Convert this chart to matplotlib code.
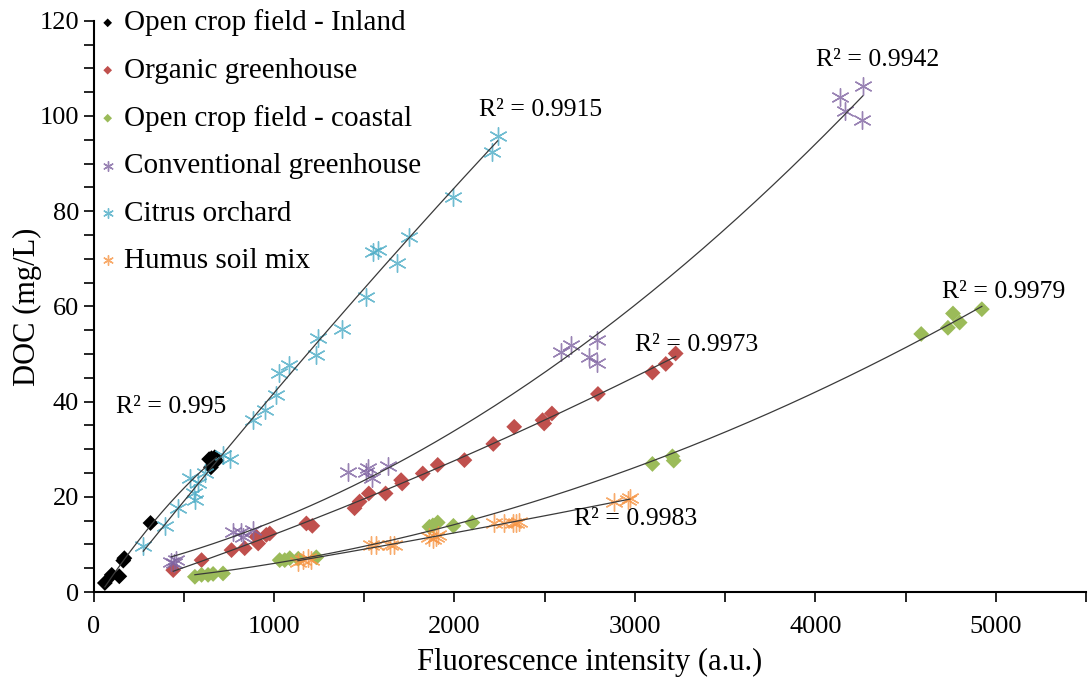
import matplotlib
matplotlib.use("Agg")
import matplotlib.pyplot as plt
import numpy as np

plt.rcParams['font.family'] = ['Liberation Serif', 'DejaVu Serif']

# Open crop field - Inland
inland_x = [62, 100, 142, 164, 170, 315, 640, 650, 653, 662, 671, 680]
inland_y = [1.9, 3.6, 3.3, 6.6, 7.1, 14.5, 27.9, 26.2, 28.1, 27.2, 28.3, 27.6]

# Organic greenhouse
organic_x = [441, 598, 764, 837, 902, 912, 957, 976, 1179, 1212, 1446, 1474, 1525, 1618,
             1704, 1710, 1824, 1907, 2055, 2215, 2331, 2488, 2497, 2540, 2795, 3097, 3171, 3226]
organic_y = [4.6, 6.7, 8.8, 9.2, 11.6, 10.2, 12.0, 12.3, 14.4, 13.9, 17.6, 19.0, 20.7, 20.7,
             23.5, 22.8, 24.9, 26.7, 27.7, 31.1, 34.7, 36.1, 35.4, 37.5, 41.6, 46.1, 47.9, 50.1]

# Open crop field - coastal
coastal_x = [561, 598, 634, 662, 717, 1031, 1059, 1087, 1134, 1234, 1861, 1880, 1907, 1994,
             2099, 3097, 3208, 3215, 4587, 4735, 4763, 4800, 4923]
coastal_y = [3.2, 3.6, 3.6, 3.8, 3.9, 6.7, 6.7, 7.1, 7.0, 7.3, 13.7, 14.0, 14.6, 13.9,
             14.6, 26.9, 28.5, 27.6, 54.2, 55.5, 58.5, 56.6, 59.4]

# Conventional greenhouse
conv_x = [431, 459, 445, 773, 819, 828, 883, 1409, 1511, 1520, 1544, 1630, 2590, 2645,
          2747, 2792, 2792, 4139, 4163, 4259, 4263]
conv_y = [6.4, 6.7, 6.0, 12.7, 12.7, 11.6, 13.0, 25.3, 25.3, 26.0, 23.9, 26.5, 50.5, 51.9,
          49.4, 52.9, 48.0, 104.0, 101.1, 99.2, 106.2]

# Citrus orchard
citrus_x = [275, 395, 468, 533, 555, 561, 580, 616, 717, 754, 883, 948, 1013, 1027, 1083,
            1234, 1243, 1378, 1511, 1551, 1575, 1682, 1750, 1990, 2206, 2239]
citrus_y = [9.6, 13.8, 17.7, 24.0, 20.7, 19.4, 23.0, 25.0, 28.8, 27.9, 36.2, 38.3, 41.4, 45.9, 47.7,
            49.8, 53.3, 55.2, 62.0, 71.4, 71.8, 69.1, 74.6, 82.9, 92.4, 95.8]

# Humus soil mix
humus_x = [1132, 1160, 1188, 1207, 1538, 1566, 1640, 1667, 1861, 1880, 1898, 1907, 2221,
           2276, 2322, 2340, 2359, 2885, 2960, 2972]
humus_y = [6.4, 6.7, 7.1, 6.7, 9.9, 9.9, 9.9, 9.9, 11.6, 11.1, 11.6, 12.0, 14.4,
           14.4, 14.4, 14.6, 14.8, 19.0, 19.3, 19.7]

series = [
    ("Open crop field - Inland", inland_x, inland_y, "#000000", "D"),
    ("Organic greenhouse", organic_x, organic_y, "#C0504D", "D"),
    ("Open crop field - coastal", coastal_x, coastal_y, "#9BBB59", "D"),
    ("Conventional greenhouse", conv_x, conv_y, "#8064A2", (6, 2, 0)),
    ("Citrus orchard", citrus_x, citrus_y, "#4BACC6", (6, 2, 0)),
    ("Humus soil mix", humus_x, humus_y, "#F79646", (6, 2, 0)),
]

# R^2 labels: text, x, y (left edge, centre)
r2_labels = [
    ("R\u00b2 = 0.995", 125, 38.9),
    ("R\u00b2 = 0.9973", 3000, 51.9),
    ("R\u00b2 = 0.9979", 4700, 63.0),
    ("R\u00b2 = 0.9942", 4003, 111.8),
    ("R\u00b2 = 0.9915", 2138, 101.3),
    ("R\u00b2 = 0.9983", 2664, 15.3),
]


def main():
    fig = plt.figure(figsize=(10.88, 6.9), dpi=100)
    ax = fig.add_axes([0.0861, 0.142, 0.912, 0.828])

    handles = []
    for name, xs, ys, color, marker in series:
        xs = np.array(xs, dtype=float)
        ys = np.array(ys, dtype=float)
        if marker == "D":
            h = ax.scatter(xs, ys, marker="D", s=65, color=color, edgecolors="none",
                           zorder=2, label=name)
        else:
            h = ax.scatter(xs, ys, marker=marker, s=160, color=color, linewidths=1.0,
                           alpha=0.8, zorder=2, label=name)
        handles.append(h)
        # polynomial (order 2) trendline, as in the spreadsheet
        c = np.polyfit(xs, ys, 2)
        xf = np.linspace(xs.min(), xs.max(), 200)
        ax.plot(xf, np.polyval(c, xf), color="#3a3a3a", lw=0.9, zorder=3)

    for txt, tx, ty in r2_labels:
        ax.text(tx, ty, txt, fontsize=18.5, va="center", ha="left")

    ax.set_xlim(0, 5500)
    ax.set_ylim(0, 120)
    ax.set_xticks(np.arange(0, 5001, 1000))
    ax.set_xticks(np.arange(0, 5501, 500), minor=True)
    ax.set_yticks(np.arange(0, 121, 20))
    ax.set_yticks(np.arange(0, 121, 5), minor=True)
    ax.tick_params(which="both", direction="out", length=7, width=1.2, labelsize=19)
    ax.tick_params(axis="x", which="major", pad=10)
    for s in ["top", "right"]:
        ax.spines[s].set_visible(False)
    for s in ["left", "bottom"]:
        ax.spines[s].set_linewidth(1.5)

    ax.set_xlabel("Fluorescence intensity (a.u.)", fontsize=22)
    ax.set_ylabel("DOC (mg/L)", fontsize=22)
    ax.xaxis.set_label_coords(0.5, -0.097)
    ax.yaxis.set_label_coords(-0.052, 0.5)

    ax.legend(handles=handles, loc="upper left", bbox_to_anchor=(-0.005, 1.04),
              frameon=False, fontsize=21, handlelength=0.5, handletextpad=0.3,
              labelspacing=0.72, borderaxespad=0, markerscale=0.55)

    fig.savefig("out.png", dpi=100)


main()
